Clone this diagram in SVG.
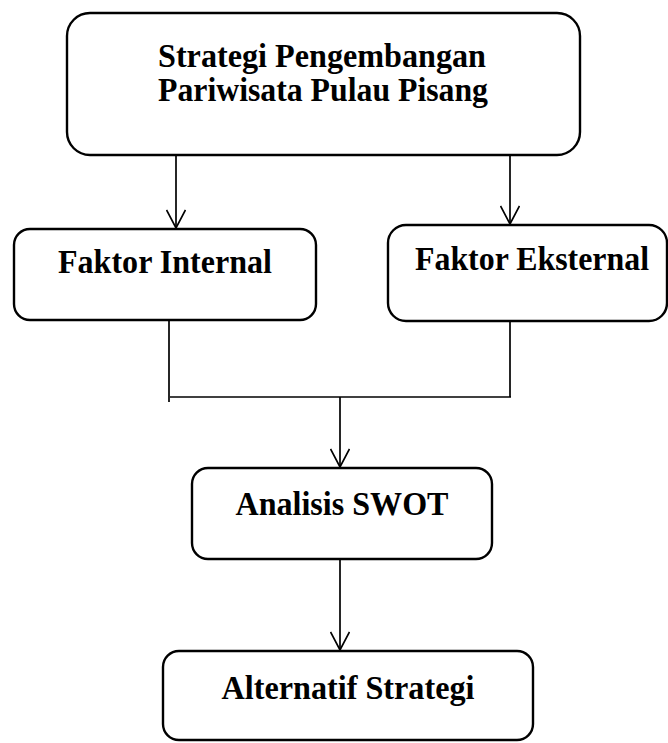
<svg xmlns="http://www.w3.org/2000/svg" width="668" height="743" viewBox="0 0 668 743">
<style>
.box{fill:#fff;stroke:#000;stroke-width:2.4}
.lbl{font-family:"Liberation Serif","Times New Roman",serif;font-weight:bold;font-size:34px;fill:#000;text-anchor:middle}
.con{fill:none;stroke:#000;stroke-width:1.7}
</style>
<defs>
<marker id="arr" viewBox="0 0 20 20" refX="19" refY="10" markerWidth="20" markerHeight="20" markerUnits="userSpaceOnUse" orient="auto">
<path d="M1,0.5 L19,10 L1,19.5" fill="none" stroke="#000" stroke-width="1.7"/>
</marker>
</defs>
<rect width="668" height="743" fill="#fff"/>
<g id="connectors">
<line class="con" x1="176" y1="155" x2="176" y2="228" marker-end="url(#arr)"/>
<line class="con" x1="510" y1="155" x2="510" y2="224" marker-end="url(#arr)"/>
<line class="con" x1="169" y1="320" x2="169" y2="402"/>
<line class="con" x1="510" y1="321" x2="510" y2="397"/>
<line class="con" x1="170" y1="397" x2="511" y2="397"/>
<line class="con" x1="340" y1="397" x2="340" y2="467" marker-end="url(#arr)"/>
<line class="con" x1="340" y1="559" x2="340" y2="650" marker-end="url(#arr)"/>
</g>
<g id="node-strategi">
<rect class="box" x="67" y="13" width="513" height="142" rx="23"/>
<text class="lbl" x="322" y="67" textLength="328" lengthAdjust="spacingAndGlyphs">Strategi Pengembangan</text>
<text class="lbl" x="323" y="101" textLength="330" lengthAdjust="spacingAndGlyphs">Pariwisata Pulau Pisang</text>
</g>
<g id="node-internal">
<rect class="box" x="14" y="229" width="302" height="91" rx="16"/>
<text class="lbl" x="165" y="273" textLength="214" lengthAdjust="spacingAndGlyphs">Faktor Internal</text>
</g>
<g id="node-eksternal">
<rect class="box" x="388" y="225" width="279" height="96" rx="18"/>
<text class="lbl" x="532" y="270" textLength="234" lengthAdjust="spacingAndGlyphs">Faktor Eksternal</text>
</g>
<g id="node-swot">
<rect class="box" x="192" y="468" width="300" height="91" rx="16"/>
<text class="lbl" x="342" y="515" textLength="213" lengthAdjust="spacingAndGlyphs">Analisis SWOT</text>
</g>
<g id="node-alternatif">
<rect class="box" x="163" y="651" width="370" height="89" rx="16"/>
<text class="lbl" x="348" y="699" textLength="253" lengthAdjust="spacingAndGlyphs">Alternatif Strategi</text>
</g>
</svg>
